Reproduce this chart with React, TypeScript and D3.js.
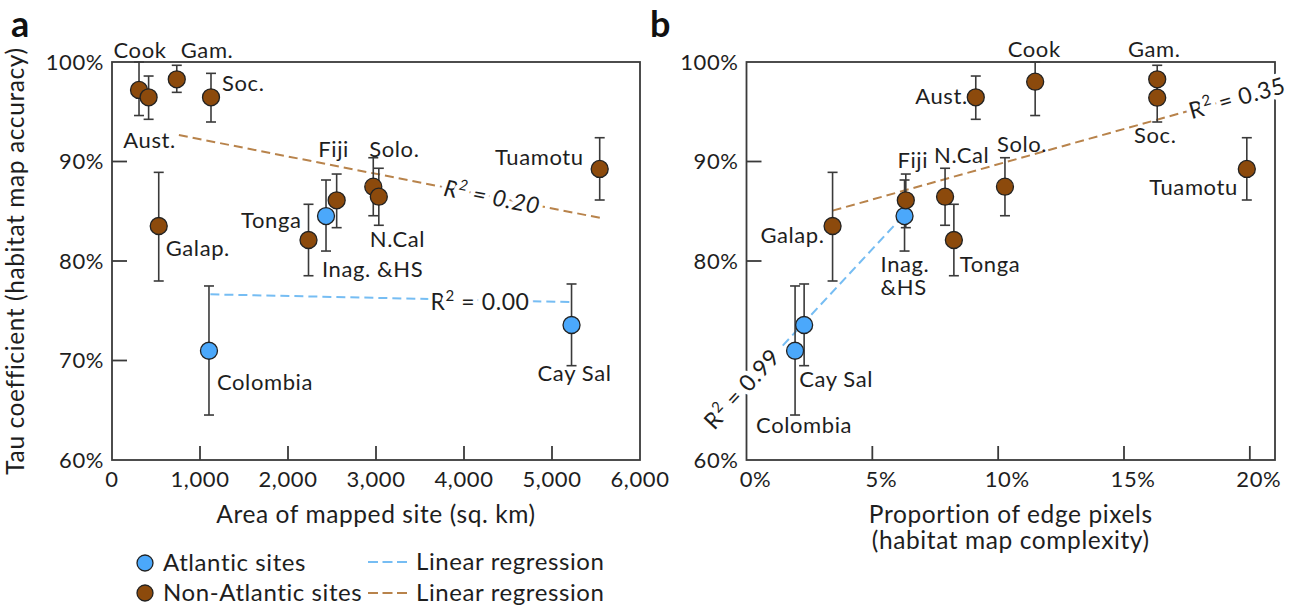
import React from "react";
import * as d3 from "d3";

// site data
const sites = ["Cook", "Aust.", "Gam.", "Soc.", "Galap.", "Tonga", "Inag. &HS", "Fiji", "Solo.", "N.Cal", "Tuamotu", "Colombia", "Cay Sal"];
const sitesB = ["Cook", "Aust.", "Gam.", "Soc.", "Galap.", "Tonga", "Inag.\n&HS", "Fiji", "Solo.", "N.Cal", "Tuamotu", "Colombia", "Cay Sal"];
const atlantic = [false, false, false, false, false, false, true, false, false, false, false, true, true];
const areaKm = [307, 416, 736, 1125, 531, 2233, 2432, 2553, 2969, 3032, 5542, 1102, 5222];
const edgePct = [11.47, 9.11, 16.32, 16.32, 3.42, 8.24, 6.28, 6.33, 10.27, 7.89, 19.88, 1.93, 2.29];
const tauArea = [97.19, 96.45, 98.26, 96.45, 83.52, 82.11, 84.52, 86.1, 87.47, 86.46, 89.25, 70.98, 73.57];
const tauEdge = [98.02, 96.45, 98.26, 96.41, 83.52, 82.11, 84.52, 86.1, 87.47, 86.46, 89.25, 70.98, 73.57];
const tauHi = [100, 98.59, 99.67, 98.86, 88.91, 85.7, 88.14, 88.74, 90.38, 89.32, 92.39, 77.49, 77.69];
const tauLo = [94.62, 94.24, 96.95, 93.97, 77.99, 78.52, 81.0, 83.35, 84.55, 83.59, 86.13, 64.52, 69.48];

// regression lines (end points)
const regAreaAtlX = [1118, 5208];
const regAreaAtlY = [76.65, 75.88];
const regAreaNonX = [760, 5560];
const regAreaNonY = [92.66, 84.31];
const regEdgeAtlX = [1.44, 6.1];
const regEdgeAtlY = [71.5, 84.2];
const regEdgeNonX = [3.42, 19.9];
const regEdgeNonY = [85.06, 96.74];

const areaTicks = [0, 1000, 2000, 3000, 4000, 5000, 6000];
const edgeTicks = [0, 5, 10, 15, 20];
const tauTicksA = [60, 70, 80, 90, 100];
const tauTicksB = [60, 80, 90, 100];

const BROWN = "#8c4a0c";
const BLUE = "#4ba8fb";
const BROWN_DASH = "#b8834b";
const BLUE_DASH = "#76bdf3";
const INK = "#1e1e1e";
const AXIS = "#3a3a3a";
const FONT = "Lato, 'Open Sans', sans-serif";
const LS = 0.6;

// label placement [dx, dy, anchor] relative to the point
const labelPosA: [number, number, string][] = [
  [1, -32, "middle"], [1, 51, "middle"], [4, -21, "start"], [11, -6, "start"],
  [7, 30, "start"], [-7, -12, "end"], [-4, 61, "start"], [-3, -43, "middle"],
  [-4, -30, "start"], [-9, 50, "start"], [-16, -4, "end"], [8, 39, "start"], [3, 56, "middle"],
];
const labelPosB: [number, number, string][] = [
  [-1, -25, "middle"], [-8, 7, "end"], [-3, -22, "middle"], [-2, 45, "middle"],
  [-8, 17, "end"], [6, 32, "start"], [-24, 56, "start"], [7, -32, "middle"],
  [-8, -35, "start"], [-11, -34, "start"], [-9, 26, "end"], [-39, 82, "start"], [-5, 62, "start"],
];

const y = d3.scaleLinear().domain([60, 100]).range([460, 62]);
const xA = d3.scaleLinear().domain([0, 6000]).range([112, 640]);
const xB = d3.scaleLinear().domain([0, 21]).range([746.5, 1275]);
const fmtComma = d3.format(",");

const R2 = ({ x, y: yy, angle, value, italic }: any) => (
  <text
    transform={`translate(${x},${yy}) rotate(${angle})`}
    textAnchor="middle"
    dy="0.35em"
    fontSize={23}
    letterSpacing={LS}
    fontStyle={italic ? "italic" : "normal"}
    fill={INK}
    stroke="#fff"
    strokeWidth={9}
    strokeLinejoin="round"
    style={{ paintOrder: "stroke" }}
  >
    R<tspan dy={-9} fontSize={15}>2</tspan>
    <tspan dy={9}>{` = ${value}`}</tspan>
  </text>
);

const Panel = ({ x, vals, reg, tau, names, xTicks, yTicks, xFmt, labelPos, tickDx }: any) => {
  const [x0, x1] = x.range();
  const line = d3.line<number[]>().x((d) => d[0]).y((d) => d[1]);
  return (
    <g>
      <rect x={x0} y={y(100)} width={x1 - x0} height={y(60) - y(100)} fill="none" stroke={AXIS} strokeWidth={1.8} />
      {yTicks.filter((t: number) => t > 60 && t < 100).map((t: number) => (
        <line key={t} x1={x0} x2={x0 + 15} y1={y(t)} y2={y(t)} stroke={AXIS} strokeWidth={1.8} />
      ))}
      {yTicks.map((t: number) => (
        <text key={t} x={x0 - 8} y={y(t)} dy="0.36em" textAnchor="end" fontSize={22} letterSpacing={LS} fill={INK}>{t}%</text>
      ))}
      {xTicks.map((t: number) => (
        <g key={t}>
          {x(t) > x0 + 2 && x(t) < x1 - 2 ? (
            <line x1={x(t)} x2={x(t)} y1={y(60)} y2={y(60) - 14} stroke={AXIS} strokeWidth={1.8} />
          ) : null}
          <text x={x(t) + tickDx} y={y(60) + 27} textAnchor="middle" fontSize={22} letterSpacing={LS} fill={INK}>{xFmt(t)}</text>
        </g>
      ))}
      {reg.map((r: any, i: number) => (
        <path key={i} d={line(r.x.map((v: number, k: number) => [x(v), y(r.y[k])])) || ""}
          fill="none" stroke={r.atl ? BLUE_DASH : BROWN_DASH} strokeWidth={2} strokeDasharray="9,5" />
      ))}
      {vals.map((v: number, i: number) => (
        <g key={i} stroke={AXIS} strokeWidth={1.6}>
          <line x1={x(v)} x2={x(v)} y1={y(tauHi[i])} y2={y(tauLo[i])} />
          <line x1={x(v) - 5} x2={x(v) + 5} y1={y(tauHi[i])} y2={y(tauHi[i])} />
          <line x1={x(v) - 5} x2={x(v) + 5} y1={y(tauLo[i])} y2={y(tauLo[i])} />
        </g>
      ))}
      {vals.map((v: number, i: number) => (
        <circle key={i} cx={x(v)} cy={y(tau[i])} r={8.5} fill={atlantic[i] ? BLUE : BROWN} stroke="#222" strokeWidth={1.3} />
      ))}
      {vals.map((v: number, i: number) => {
        const [dx, dy, anchor] = labelPos[i];
        const parts = names[i].split("\n");
        return (
          <text key={i} x={x(v) + dx} y={y(tau[i]) + dy} textAnchor={anchor} fontSize={22} letterSpacing={LS} fill={INK}>
            {parts.map((p: string, k: number) => (
              <tspan key={k} x={x(v) + dx} dy={k === 0 ? 0 : 22.5}>{p}</tspan>
            ))}
          </text>
        );
      })}
    </g>
  );
};

export default function App() {
  const regA = [
    { atl: true, x: regAreaAtlX, y: regAreaAtlY },
    { atl: false, x: regAreaNonX, y: regAreaNonY },
  ];
  const regB = [
    { atl: true, x: regEdgeAtlX, y: regEdgeAtlY },
    { atl: false, x: regEdgeNonX, y: regEdgeNonY },
  ];
  return (
    <svg width={1301} height={606} style={{ position: "absolute", left: 0, top: 0, background: "#fff" }} fontFamily={FONT}>
      <text x={11} y={37} fontSize={36} fontWeight="bold" fill="#111">a</text>
      <text x={650} y={37} fontSize={36} fontWeight="bold" fill="#111">b</text>

      <Panel x={xA} vals={areaKm} reg={regA} tau={tauArea} names={sites} xTicks={areaTicks} yTicks={tauTicksA}
        xFmt={fmtComma} labelPos={labelPosA} tickDx={0} />
      <Panel x={xB} vals={edgePct} reg={regB} tau={tauEdge} names={sitesB} xTicks={edgeTicks} yTicks={tauTicksB}
        xFmt={(t: number) => `${t}%`} labelPos={labelPosB} tickDx={9} />

      <R2 x={492} y={197} angle={11.1} value="0.20" italic />
      <R2 x={480} y={302} angle={0} value="0.00" />
      <R2 x={1237} y={98} angle={-15.7} value="0.35" />
      <R2 x={742} y={389} angle={-47.3} value="0.99" />

      <text transform={`translate(24,${(y(60) + y(100)) / 2}) rotate(-90)`} textAnchor="middle" fontSize={24.5} letterSpacing={LS} fill={INK}>
        Tau coefficient (habitat map accuracy)
      </text>
      <text x={(xA(0) + xA(6000)) / 2} y={523} textAnchor="middle" fontSize={24.5} letterSpacing={LS} fill={INK}>Area of mapped site (sq. km)</text>
      <text x={(xB(0) + xB(21)) / 2} y={523} textAnchor="middle" fontSize={24.5} letterSpacing={LS} fill={INK}>Proportion of edge pixels</text>
      <text x={(xB(0) + xB(21)) / 2} y={549} textAnchor="middle" fontSize={24.5} letterSpacing={LS} fill={INK}>(habitat map complexity)</text>

      <g fontSize={24} letterSpacing={LS} fill={INK}>
        <circle cx={145} cy={563} r={8} fill={BLUE} stroke="#222" strokeWidth={1.3} />
        <text x={163} y={571}>Atlantic sites</text>
        <circle cx={145} cy={593} r={8} fill={BROWN} stroke="#222" strokeWidth={1.3} />
        <text x={163} y={601}>Non-Atlantic sites</text>
        <line x1={368} x2={408} y1={562} y2={562} stroke={BLUE_DASH} strokeWidth={2} strokeDasharray="10,4.5" />
        <text x={416} y={570}>Linear regression</text>
        <line x1={368} x2={408} y1={593} y2={593} stroke={BROWN_DASH} strokeWidth={2} strokeDasharray="10,4.5" />
        <text x={416} y={601}>Linear regression</text>
      </g>
    </svg>
  );
}
